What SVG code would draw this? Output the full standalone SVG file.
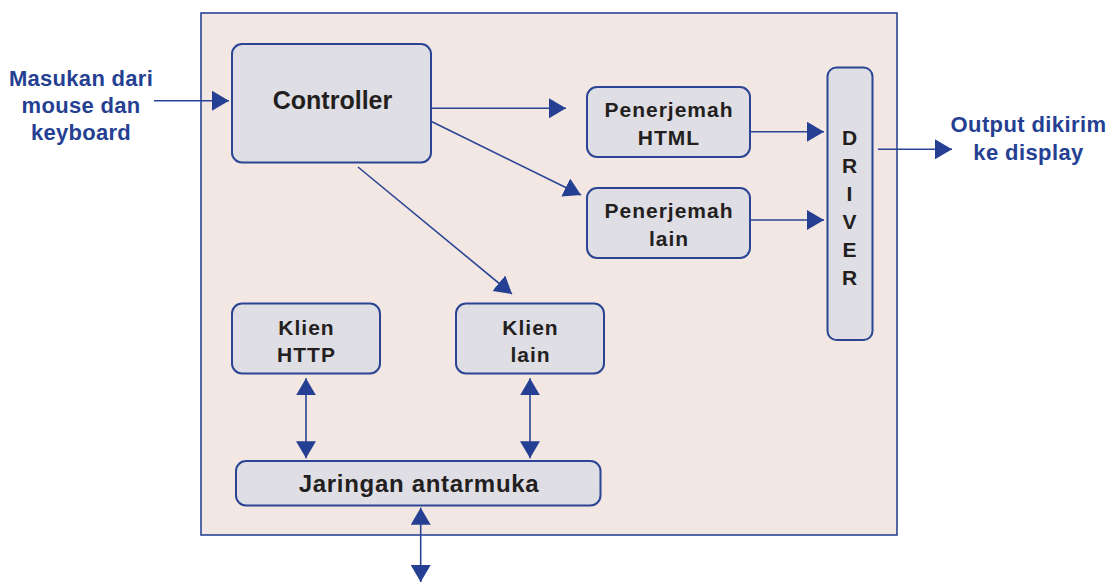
<svg xmlns="http://www.w3.org/2000/svg" width="1111" height="583" viewBox="0 0 1111 583">
<defs>
<style>
.frame{fill:#f3e7e4;stroke:#2b4594;stroke-width:1.6}
.box{fill:#dfdee4;stroke:#2b4594;stroke-width:2}
.t{font-family:"Liberation Sans",Arial,sans-serif;font-weight:bold;fill:#231f20;text-anchor:middle;font-size:21px;letter-spacing:1px}
.b{font-family:"Liberation Sans",Arial,sans-serif;font-weight:bold;fill:#253f92;text-anchor:middle;font-size:22px;letter-spacing:0.3px}
.ln{stroke:#2b4594;stroke-width:1.6;fill:none}
.big{font-size:25px;letter-spacing:0}
.jar{font-size:24px;letter-spacing:0.7px}
.ltr{letter-spacing:0}
.wide{letter-spacing:0.4px}
</style>
<marker id="ah" markerUnits="userSpaceOnUse" markerWidth="18" markerHeight="20" refX="17" refY="10" orient="auto">
<path d="M0,0 L17,10 L0,20 Z" fill="#253f92"/>
</marker>
<marker id="as" markerUnits="userSpaceOnUse" markerWidth="18" markerHeight="20" refX="17" refY="10" orient="auto-start-reverse">
<path d="M0,0 L17,10 L0,20 Z" fill="#253f92"/>
</marker>
</defs>
<rect width="1111" height="583" fill="#ffffff"/>
<rect class="frame" x="201" y="13" width="696" height="522"/>

<g id="connectors">
<line class="ln" x1="154" y1="100.7" x2="229" y2="100.7" marker-end="url(#ah)"/>
<line class="ln" x1="432" y1="108.3" x2="566" y2="108.3" marker-end="url(#ah)"/>
<line class="ln" x1="432" y1="121.7" x2="581" y2="195" marker-end="url(#ah)"/>
<line class="ln" x1="358" y1="167" x2="512" y2="294" marker-end="url(#ah)"/>
<line class="ln" x1="750" y1="131.7" x2="824" y2="131.7" marker-end="url(#ah)"/>
<line class="ln" x1="750" y1="220" x2="824" y2="220" marker-end="url(#ah)"/>
<line class="ln" x1="878" y1="149.3" x2="952" y2="149.3" marker-end="url(#ah)"/>
<line class="ln" x1="306" y1="378.3" x2="306" y2="458.3" marker-start="url(#as)" marker-end="url(#ah)"/>
<line class="ln" x1="530" y1="378.3" x2="530" y2="458.3" marker-start="url(#as)" marker-end="url(#ah)"/>
<line class="ln" x1="420.7" y1="507.7" x2="420.7" y2="582" marker-start="url(#as)" marker-end="url(#ah)"/>
</g>

<g id="input-label">
<text class="b" x="81" y="86">Masukan dari</text>
<text class="b" x="81" y="112.5">mouse dan</text>
<text class="b" x="81" y="139.5">keyboard</text>
</g>

<g id="controller">
<rect class="box" x="232" y="44" width="199" height="118.5" rx="10"/>
<text class="t big" x="332.5" y="109">Controller</text>
</g>

<g id="penerjemah-html">
<rect class="box" x="587" y="87" width="163" height="70" rx="10"/>
<text class="t" x="669" y="117">Penerjemah</text>
<text class="t" x="669" y="145">HTML</text>
</g>

<g id="penerjemah-lain">
<rect class="box" x="587" y="188" width="163" height="70" rx="10"/>
<text class="t" x="669" y="218">Penerjemah</text>
<text class="t" x="669" y="245.5">lain</text>
</g>

<g id="driver">
<rect class="box" x="827.5" y="67.5" width="45" height="272.5" rx="9"/>
<text class="t ltr" x="849.5" y="145">D</text>
<text class="t ltr" x="849.5" y="173">R</text>
<text class="t ltr" x="849.5" y="201">I</text>
<text class="t ltr" x="849.5" y="228.5">V</text>
<text class="t ltr" x="849.5" y="256.5">E</text>
<text class="t ltr" x="849.5" y="284.5">R</text>
</g>

<g id="output-label">
<text class="b wide" x="1028.5" y="132">Output dikirim</text>
<text class="b wide" x="1028.5" y="159.5">ke display</text>
</g>

<g id="klien-http">
<rect class="box" x="232" y="303.5" width="148" height="70" rx="10"/>
<text class="t" x="306.5" y="334.5">Klien</text>
<text class="t" x="306.5" y="361.5">HTTP</text>
</g>

<g id="klien-lain">
<rect class="box" x="456" y="303.5" width="148" height="70" rx="10"/>
<text class="t" x="530.5" y="334.5">Klien</text>
<text class="t" x="530.5" y="361.5">lain</text>
</g>

<g id="jaringan">
<rect class="box" x="236" y="461" width="364.5" height="44.5" rx="10"/>
<text class="t jar" x="419" y="491.5">Jaringan antarmuka</text>
</g>
</svg>
